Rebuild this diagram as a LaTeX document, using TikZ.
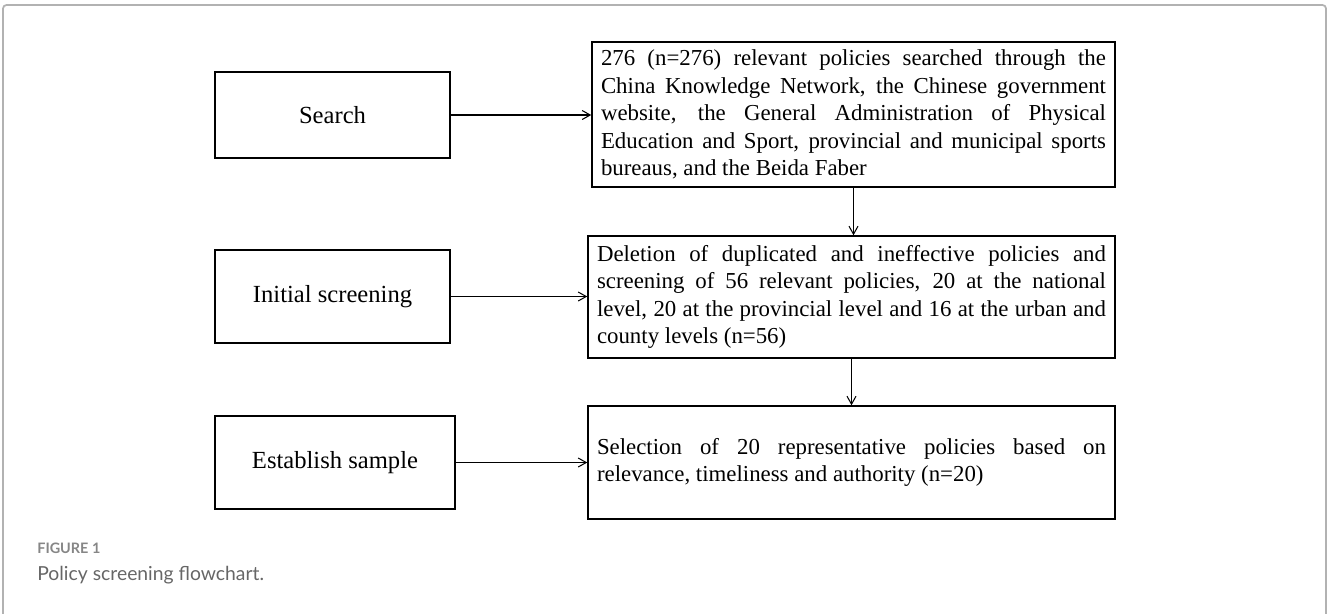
\documentclass[tikz,border=0pt]{standalone}
\usepackage{fontspec}
\setmainfont{Liberation Serif}
\newfontfamily\capfont{Lato}
\usetikzlibrary{arrows.meta}

\begin{document}
\begin{tikzpicture}[>={Straight Barb[length=1.6mm,width=1.8mm]},
    krok/.style={draw, line width=0.85pt, minimum width=4.7cm, minimum height=1.86cm, font=\fontsize{14}{16.8}\selectfont},
    popis/.style={draw, line width=0.85pt, inner xsep=0.18cm, align=justify, font=\fontsize{13}{15.65}\selectfont},
    sipka/.style={->, line width=0.6pt}]

    \useasboundingbox (0,0) rectangle (26.58,-12.26);

    % Ramecek
    \draw[gray!60, line width=1pt, rounded corners=2pt] (0.06,-12.4) -- (0.06,-0.1) -- (26.52,-0.1) -- (26.52,-12.4);

    % Kroky vlevo
    \node[krok, minimum height=1.72cm] (hledani) at (6.65,-2.30) {Search};
    \node[krok] (vyber) at (6.65,-5.93) {Initial screening};
    \node[krok, minimum width=4.8cm] (vzorek) at (6.70,-9.25) {Establish sample};

    % Popisy vpravo
    \node[popis, text width=10.1cm, minimum height=2.9cm] (zdroje) at (17.07,-2.29)
        {276 (n=276) relevant policies searched through the\linebreak
         China Knowledge Network, the Chinese government\linebreak
         website, the General Administration of Physical\linebreak
         Education and Sport, provincial and municipal sports\linebreak
         bureaus, and the Beida Faber};
    \node[popis, text width=10.18cm, minimum height=2.44cm] (politiky) at (17.03,-5.94)
        {Deletion of duplicated and ineffective policies and\linebreak
         screening of 56 relevant policies, 20 at the national\linebreak
         level, 20 at the provincial level and 16 at the urban and\linebreak
         county levels (n=56)};
    \node[popis, text width=10.18cm, minimum height=2.26cm] (vzor) at (17.03,-9.25)
        {Selection of 20 representative policies based on\linebreak
         relevance, timeliness and authority (n=20)};

    % Sipky
    \draw[sipka] (hledani.east) -- (hledani.east -| zdroje.west);
    \draw[sipka] (vyber.east) -- (vyber.east -| politiky.west);
    \draw[sipka] (vzorek.east) -- (vzorek.east -| vzor.west);
    \draw[sipka] (zdroje.south) -- (zdroje.south |- politiky.north);
    \draw[sipka] (politiky.south) -- (politiky.south |- vzor.north);

    % Popisek
    \node[anchor=west, inner sep=0, text=gray!95, font=\capfont\bfseries\fontsize{8.2}{10}\selectfont] (cislo) at (0.74,-10.96) {FIGURE 1};
    \node[anchor=west, inner sep=0, text=black!60, font=\capfont\fontsize{11}{13}\selectfont] (nazev) at (0.74,-11.50) {Policy screening flowchart.};

\end{tikzpicture}
\end{document}
